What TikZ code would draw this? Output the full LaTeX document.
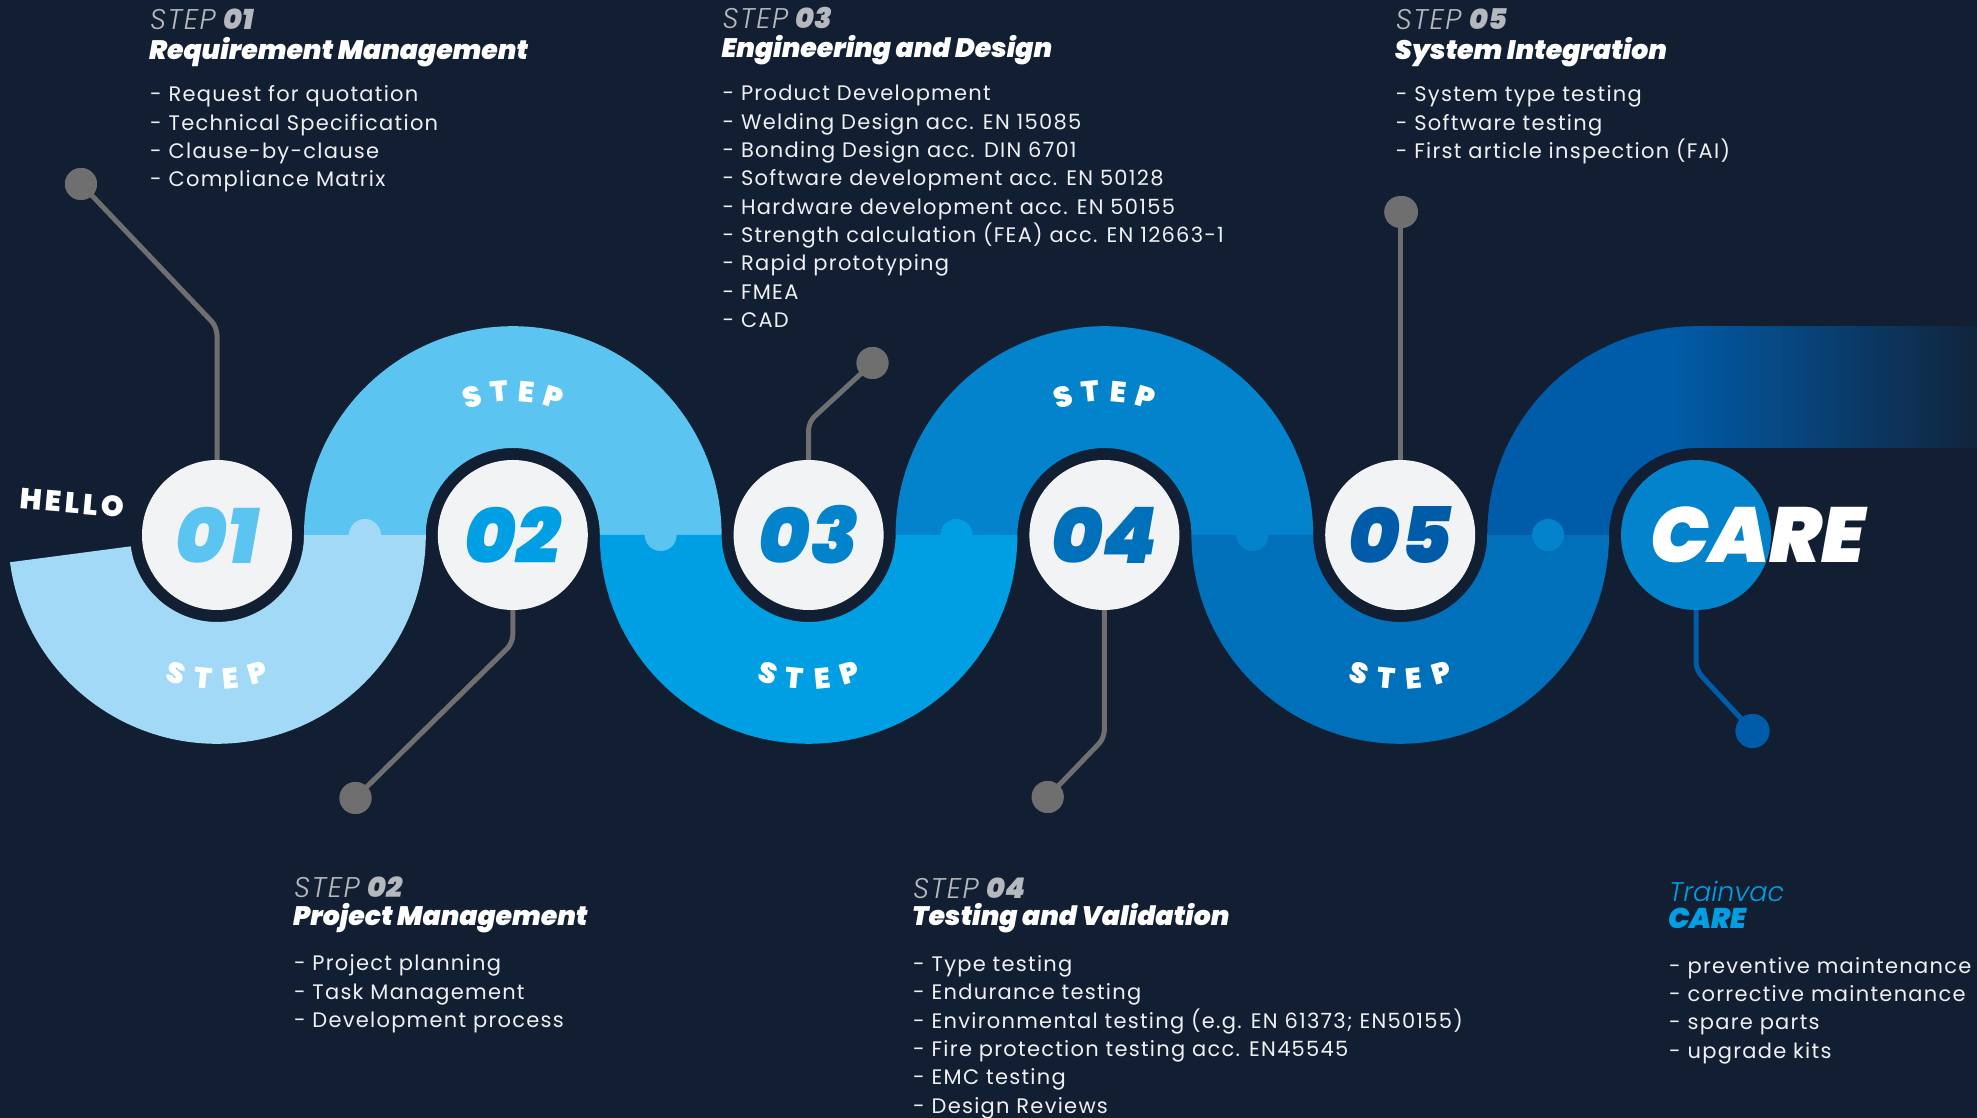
\documentclass[tikz,border=0pt]{standalone}
\usepackage{fontspec}
\usetikzlibrary{calc}
\setmainfont{Poppins}
\IfFontExistsTF{Poppins Black Italic}{\newfontfamily\fblackit{Poppins Black Italic}}{\newfontfamily\fblackit{Liberation Sans Bold Italic}}
\IfFontExistsTF{Poppins Black}{\newfontfamily\fblack{Poppins Black}\newfontfamily\fblacksp{Poppins Black}[LetterSpace=12]}{\newfontfamily\fblack{Liberation Sans Bold}\newfontfamily\fblacksp{Liberation Sans Bold}[LetterSpace=12]}
\IfFontExistsTF{Poppins Light Italic}{\newfontfamily\flightit{Poppins Light Italic}[LetterSpace=5]\newfontfamily\flightitn{Poppins Light Italic}}{\newfontfamily\flightit{Liberation Sans Italic}[LetterSpace=5]\newfontfamily\flightitn{Liberation Sans Italic}}
\newfontfamily\fbody{Poppins}[LetterSpace=6]
\definecolor{bgc}{HTML}{121F33}
\definecolor{cA}{HTML}{A1D9F6}
\definecolor{cB}{HTML}{5BC4F1}
\definecolor{cC}{HTML}{009FE3}
\definecolor{cD}{HTML}{0283CC}
\definecolor{cE}{HTML}{0070BA}
\definecolor{cF}{HTML}{005CA9}
\definecolor{wc}{HTML}{F2F3F5}
\definecolor{lg}{HTML}{6F6F6F}
\definecolor{hg}{HTML}{B5B8BC}
\definecolor{bt}{HTML}{EEF0F2}
\newcommand\blist[4]{%
  \foreach \itm [count=\i from 0] in {#4} {\node[body] (#1\i) at (#2,{1118-#3-28.3*\i}) {- \itm};}}
\begin{document}
\begin{tikzpicture}[x=1pt,y=1pt,
  wcirc/.style={circle,fill=wc,minimum size=150,inner sep=0},
  numtxt/.style={font=\fblackit\fontsize{78}{78}\selectfont,inner sep=0},
  steptxt/.style={font=\fblack\fontsize{29}{29}\selectfont,text=white,inner sep=0},
  dot/.style={circle,fill=lg,minimum size=32,inner sep=0},
  lead/.style={draw=lg,line width=5,rounded corners=8},
  body/.style={anchor=base west,inner sep=0,text=bt,font=\fbody\fontsize{21}{24}\selectfont},
  hdr/.style={anchor=base west,inner sep=0,text=hg,font=\fontsize{28.5}{30}\selectfont},
  ttl/.style={anchor=base west,inner sep=0,text=white,font=\fblackit\fontsize{26.7}{30}\selectfont}]
\useasboundingbox (0,0) rectangle (1977,1118);
\fill[bgc] (0,0) rectangle (1977,1118);
\def\ri{87}\def\ro{208.8}
\coordinate (C1) at (217,583);
\coordinate (C2) at (512.8,583);
\coordinate (C3) at (808.6,583);
\coordinate (C4) at (1104.4,583);
\coordinate (C5) at (1400.2,583);
\coordinate (C6) at (1696,583);
% band segments
\fill[cA] ([shift={(187.5:\ro)}]C1) arc[start angle=187.5,end angle=360,radius=\ro] -- ++(-121.8,0) arc[start angle=360,end angle=187.5,radius=\ri] -- cycle;
\fill[cB] ([shift={(180:\ro)}]C2) arc[start angle=180,end angle=0,radius=\ro] -- ++(-121.8,0) arc[start angle=0,end angle=180,radius=\ri] -- cycle;
\fill[cC] ([shift={(180:\ro)}]C3) arc[start angle=180,end angle=360,radius=\ro] -- ++(-121.8,0) arc[start angle=360,end angle=180,radius=\ri] -- cycle;
\fill[cD] ([shift={(180:\ro)}]C4) arc[start angle=180,end angle=0,radius=\ro] -- ++(-121.8,0) arc[start angle=0,end angle=180,radius=\ri] -- cycle;
\fill[cE] ([shift={(180:\ro)}]C5) arc[start angle=180,end angle=360,radius=\ro] -- ++(-121.8,0) arc[start angle=360,end angle=180,radius=\ri] -- cycle;
\begin{scope}
\clip ([shift={(180:\ro)}]C6) arc[start angle=180,end angle=90,radius=\ro] -- (1977,791.8) -- (1977,670) -- ([shift={(90:\ri)}]C6) arc[start angle=90,end angle=180,radius=\ri] -- cycle;
\fill[cF] (1480,570) rectangle (1670,800);
\shade[left color=cF,right color=bgc!92!cF] (1669,570) rectangle (1977,800);
\end{scope}
% junction bumps
\fill[cA] (364.9,583) circle[radius=16];
\fill[cB] (660.7,583) circle[radius=16];
\fill[cC] (956.5,583) circle[radius=16];
\fill[cD] (1252.3,583) circle[radius=16];
\fill[cD] (1548.1,583) circle[radius=16];
% circles
\node[wcirc] (n1) at (C1) {};
\node[wcirc] (n2) at (C2) {};
\node[wcirc] (n3) at (C3) {};
\node[wcirc] (n4) at (C4) {};
\node[wcirc] (n5) at (C5) {};
\node[wcirc,fill=cD] (n6) at (C6) {};
\node[numtxt,text=cB] (t1) at (n1) {01};
\node[numtxt,text=cC] (t2) at (n2) {02};
\node[numtxt,text=cD] (t3) at (n3) {03};
\node[numtxt,text=cE] (t4) at (n4) {04};
\node[numtxt,text=cF] (t5) at (n5) {05};
\node[numtxt,text=white] (t6) at (1758,583) {CARE};
% STEP labels
\foreach \a/\l in {106.5/S,95.5/T,84.5/E,73.5/P} {
  \node[steptxt,rotate=\a-90] at ([shift={(\a:144)}]C2) {\l};
  \node[steptxt,rotate=\a-90] at ([shift={(\a:144)}]C4) {\l};}
\foreach \a/\l in {253.5/S,264.5/T,275.5/E,286.5/P} {
  \node[steptxt,rotate=\a+90] at ([shift={(\a:144)}]C1) {\l};
  \node[steptxt,rotate=\a+90] at ([shift={(\a:144)}]C3) {\l};
  \node[steptxt,rotate=\a+90] at ([shift={(\a:144)}]C5) {\l};}
\node[steptxt,font=\fblacksp\fontsize{29}{29}\selectfont,rotate=-5] (hello) at (72,615) {HELLO};
% leader lines and dots
\node[dot] (d1) at (81,934) {};
\node[dot] (d2) at (355.5,320) {};
\node[dot] (d3) at (872.5,755) {};
\node[dot] (d4) at (1047.7,321) {};
\node[dot] (d5) at (1402,906) {};
\node[dot,fill=cF,minimum size=34] (d6) at (1752.5,387) {};
\coordinate (b1) at (217,791);
\coordinate (b2) at (512.8,475);
\coordinate (b3) at (808.6,696);
\coordinate (b4) at (1104.4,380);
\coordinate (b6) at (1696,448);
\draw[lead] (n1.north) -- (b1) -- (d1.center);
\draw[lead] (n2.south) -- (b2) -- (d2.center);
\draw[lead] (n3.north) -- (b3) -- (d3.center);
\draw[lead] (n4.south) -- (b4) -- (d4.center);
\draw[lead] (n5.north) -- (n5.north |- d5.center);
\draw[lead,draw=cF] (n6.south) -- (b6) -- (d6.center);
\node[dot] at (d1) {};
\node[dot] at (d2) {};
\node[dot] at (d3) {};
\node[dot] at (d4) {};
\node[dot] at (n5.north |- d5.center) {};
\node[dot,fill=cF,minimum size=34] at (d6) {};
% text blocks
\node[hdr] (h1) at (150,1088) {{\flightit STEP} {\fblackit 01}};
\node[ttl] (g1) at (149,1058.7) {Requirement Management};
\blist{a}{150}{102}{Request for quotation,Technical Specification,Clause-by-clause,Compliance Matrix}
\node[hdr] (h3) at (722.4,1089) {{\flightit STEP} {\fblackit 03}};
\node[ttl] (g3) at (721.4,1060) {Engineering and Design};
\blist{c}{722.4}{101}{Product Development,Welding Design acc. EN 15085,Bonding Design acc. DIN 6701,Software development acc. EN 50128,Hardware development acc. EN 50155,Strength calculation (FEA) acc. EN 12663-1,Rapid prototyping,FMEA,CAD}
\node[hdr] (h5) at (1395.7,1088) {{\flightit STEP} {\fblackit 05}};
\node[ttl] (g5) at (1394.7,1058.7) {System Integration};
\blist{e}{1395.7}{102}{System type testing,Software testing,First article inspection (FAI)}
\node[hdr] (h2) at (293.8,220.4) {{\flightit STEP} {\fblackit 02}};
\node[ttl] (g2) at (292.8,192.7) {Project Management};
\blist{b}{293.8}{970.8}{Project planning,Task Management,Development process}
\node[hdr] (h4) at (913,219.7) {{\flightit STEP} {\fblackit 04}};
\node[ttl] (g4) at (912,192.3) {Testing and Validation};
\blist{d}{913}{971.7}{Type testing,Endurance testing,Environmental testing (e.g. EN 61373; EN50155),Fire protection testing acc. EN45545,EMC testing,Design Reviews}
\node[hdr,text=cC,font=\flightitn\fontsize{27}{30}\selectfont] (h6) at (1669,216.3) {Trainvac};
\node[ttl,text=cC,font=\fblackit\fontsize{28.5}{30}\selectfont] (g6) at (1668,189.7) {CARE};
\blist{f}{1669}{973.3}{preventive maintenance,corrective maintenance,spare parts,upgrade kits}
\end{tikzpicture}
\end{document}
